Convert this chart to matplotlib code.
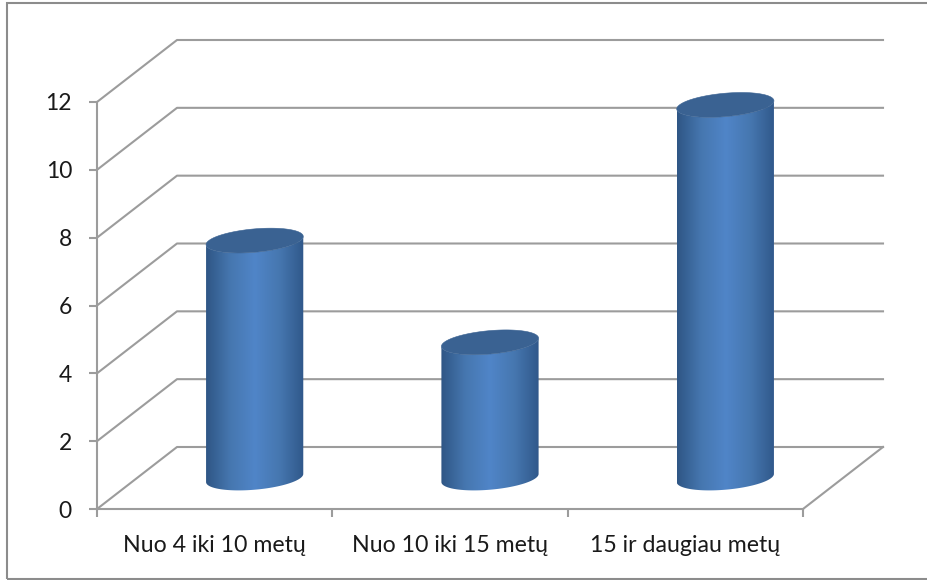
import numpy as np
import matplotlib
matplotlib.use('Agg')
import matplotlib.pyplot as plt
from matplotlib import colors
from matplotlib.patches import Polygon, Rectangle

categories = ['Nuo 4 iki 10 metų', 'Nuo 10 iki 15 metų', '15 ir daugiau metų']
values = [7, 4, 11]
y_ticks = [0, 2, 4, 6, 8, 10, 12]

plt.rcParams['font.family'] = ['Lato', 'DejaVu Sans']

grid_color = '#9c9c9c'
text_color = '#1a1a1a'
cap_color = '#3a6292'
gradient = colors.LinearSegmentedColormap.from_list(
    'cyl', ['#2f5685', '#4677b0', '#5085c8', '#4677b0', '#30588a'])

# pixel geometry of the front plane
W, H = 928, 580
left, right, y_bottom, y_top = 97, 803, 509, 102

fig = plt.figure(figsize=(W / 100, H / 100), dpi=100)
ax = fig.add_axes([left / W, 1 - y_bottom / H, (right - left) / W, (y_bottom - y_top) / H])
ax.set_xlim(0, 3)
ax.set_ylim(0, 12)

# oblique depth of the 3d box, in data units
depth_x = 80 / ((right - left) / 3)
depth_y = 62 / ((y_bottom - y_top) / 12)

for s in ax.spines.values():
    s.set_visible(False)
ax.patch.set_visible(False)

line = dict(color=grid_color, lw=1.5, clip_on=False, solid_capstyle='projecting', zorder=1)

# walls and floor
for t in y_ticks:
    ax.plot([0, depth_x, 3 + depth_x], [t, t + depth_y, t + depth_y], **line)
ax.plot([3, 3 + depth_x], [0, depth_y], **line)
ax.plot([0, 3], [0, 0], **line)
ax.plot([0, 0], [0, 12], **line)

ax.set_xticks([0, 1, 2, 3])
ax.set_xticks([0.5, 1.5, 2.5], minor=True)
ax.set_xticklabels([])
ax.set_xticklabels(categories, minor=True, fontsize=16.7, color=text_color)
ax.set_yticks(y_ticks)
ax.set_yticklabels([str(t) for t in y_ticks], fontsize=16.5, color=text_color)
ax.tick_params(axis='both', which='major', length=6, width=1.5, color=grid_color)
ax.tick_params(axis='y', pad=12)
ax.tick_params(axis='x', which='minor', length=0, pad=19)


def ring(cx, cy, t):
    # circle lying on the floor, sheared by the box depth
    rx, k = 0.195, 0.2
    return np.column_stack([cx + rx * np.cos(t) + k * depth_x * np.sin(t),
                            cy + k * depth_y * np.sin(t)])


# angle of the leftmost/rightmost point of the sheared circle
t0 = np.arctan2(0.2 * depth_x, 0.195)
for i, v in enumerate(values):
    cx = i + 0.5 + depth_x / 2
    cy = depth_y / 2
    low = np.linspace(t0 + np.pi, t0 + 2 * np.pi, 80)
    body = np.vstack([ring(cx, cy, low), ring(cx, cy + v, low[::-1])])
    x0, x1 = body[:, 0].min(), body[:, 0].max()
    im = ax.imshow(np.linspace(0, 1, 256).reshape(1, -1), cmap=gradient, aspect='auto',
                   extent=[x0, x1, cy - 1, cy + v + 1], zorder=3, interpolation='bilinear')
    patch = Polygon(body, closed=True, transform=ax.transData, facecolor='none', edgecolor='none')
    ax.add_patch(patch)
    im.set_clip_path(patch)
    top = ring(cx, cy + v, np.linspace(0, 2 * np.pi, 160))
    ax.add_patch(Polygon(top, closed=True, facecolor=cap_color, edgecolor=cap_color,
                         lw=0.4, zorder=4, clip_on=False))

ax.set_xlim(0, 3)
ax.set_ylim(0, 12)

# chart frame
fig.add_artist(Rectangle((7 / W, 1 - 579 / H), 2, 576 / H, transform=fig.transFigure,
                         facecolor='none', edgecolor='#8c8c8c', lw=1.5))

fig.savefig('out.png', dpi=100)
